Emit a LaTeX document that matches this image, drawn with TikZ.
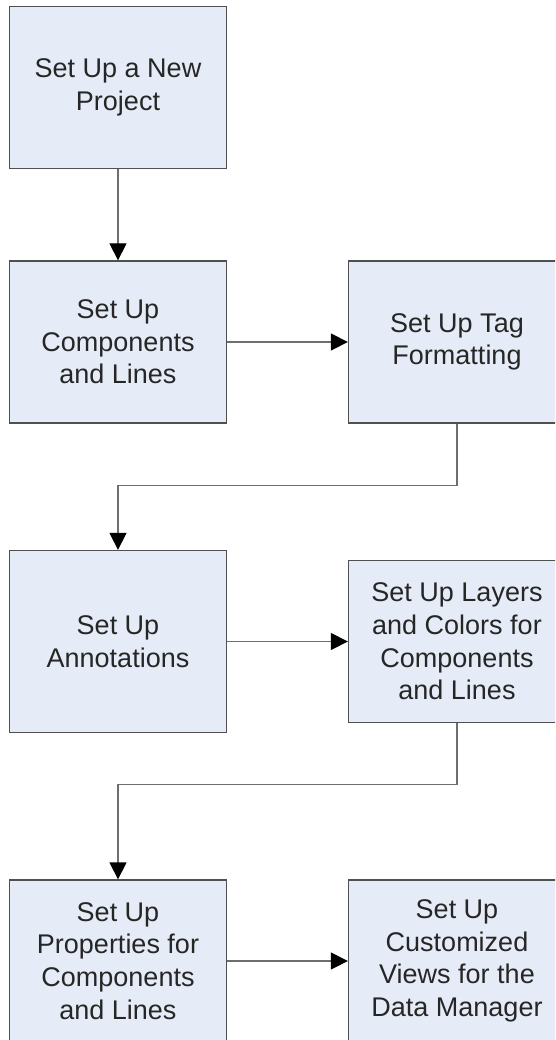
\documentclass[tikz,border=0pt]{standalone}
\usepackage{fontspec}
\setmainfont{Liberation Sans}
\usetikzlibrary{arrows.meta}
\definecolor{boxfill}{RGB}{230,236,247}
\definecolor{boxline}{RGB}{80,80,80}
\definecolor{flowline}{RGB}{110,110,110}
\tikzset{
  stepbox/.style={draw=boxline,line width=1.3pt,fill=boxfill,minimum width=217pt,minimum height=162pt,
    inner sep=0pt,align=center,text=black!85,font=\fontsize{27}{32.7}\selectfont},
  flow/.style={draw=flowline,line width=1.3pt,-{Triangle[length=17pt,width=17pt,color=black]}}
}

\begin{document}
\begin{tikzpicture}[x=1pt,y=-1pt]
\useasboundingbox (0,0) rectangle (555,1040);
\clip (0,0) rectangle (555,1040);
\node[stepbox] (newproj) at (118,87.5) {Set Up a New\\Project};
\node[stepbox] (complines) at (118,342) {Set Up\\Components\\and Lines};
\node[stepbox] (tagfmt) at (457,342) {Set Up Tag\\Formatting};
\node[stepbox,minimum height=182pt] (annot) at (118,641.5) {Set Up\\Annotations};
\node[stepbox] (layers) at (457,641.5) {Set Up Layers\\and Colors for\\Components\\and Lines};
\node[stepbox] (props) at (118,961) {Set Up\\Properties for\\Components\\and Lines};
\node[stepbox] (views) at (457,961) {Set Up\\Customized\\Views for the\\Data Manager};
\draw[flow] (newproj) -- (complines);
\draw[flow] (complines) -- (tagfmt);
\draw[flow] (tagfmt.south) -- ++(0,62) -| (annot.north);
\draw[flow] (annot) -- (layers);
\draw[flow] (layers.south) -- ++(0,61) -| (props.north);
\draw[flow] (props) -- (views);
\end{tikzpicture}
\end{document}
